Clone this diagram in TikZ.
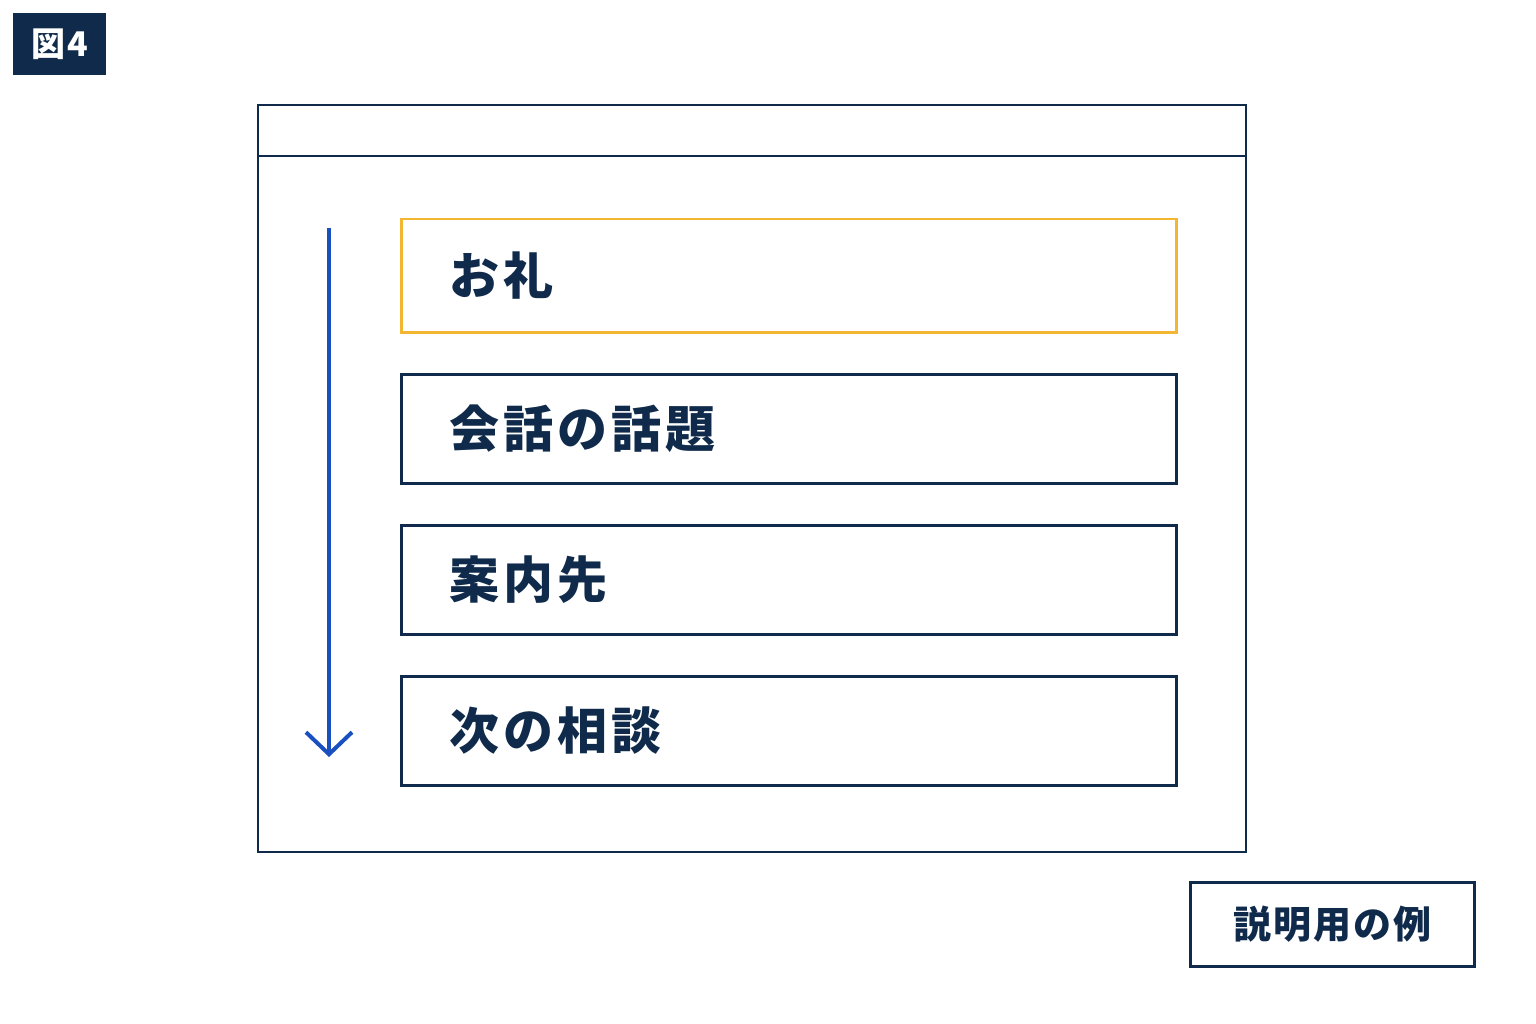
\documentclass[tikz,border=0pt]{standalone}
\usepackage{fontspec}
\newfontfamily\cjk{Noto Sans CJK JP}[LetterSpace=8]
\newfontfamily\cjks{Noto Sans CJK JP}[LetterSpace=5]
\usetikzlibrary{arrows.meta}
\definecolor{navy}{HTML}{0F2A4A}
\definecolor{ablue}{HTML}{1A4FBF}
\definecolor{gold}{HTML}{F2B632}
\begin{document}
\begin{tikzpicture}[x=1pt,y=-1pt,
  item/.style={draw=navy,line width=2.5pt,minimum width=775pt,minimum height=109pt,anchor=north west,inner sep=0pt},
  lbl/.style={anchor=west,text=navy,font=\cjk\bfseries\fontsize{50}{54}\selectfont}]
\useasboundingbox (0,0) rectangle (1536,1024);
\node[fill=navy,minimum width=93pt,minimum height=62pt,anchor=north west,inner sep=0pt,text=white,font=\cjks\bfseries\fontsize{34}{38}\selectfont] (badge) at (13,13) {図4};
\draw[navy,line width=2.5pt] (258,105) rectangle (1246,852);
\draw[navy,line width=2.5pt] (258,156) -- (1246,156);
\coordinate (a1) at (329,228); \coordinate (a2) at (329,757);
\draw[ablue,line width=4pt,-{Straight Barb[length=22pt,width=46pt,line width=4pt]}] (a1) -- (a2);
\node[item,draw=gold,minimum height=113pt] (b1) at (400,218) {};
\node[item] (b2) at (400,373) {};
\node[item] (b3) at (400,524) {};
\node[item] (b4) at (400,675) {};
\node[lbl] at ([xshift=46pt]b1.west) {お礼};
\node[lbl] at ([xshift=46pt]b2.west) {会話の話題};
\node[lbl] at ([xshift=46pt]b3.west) {案内先};
\node[lbl] at ([xshift=46pt]b4.west) {次の相談};
\node[draw=navy,line width=2.5pt,minimum width=284pt,minimum height=84pt,anchor=north west,inner sep=0pt,text=navy,font=\cjks\bfseries\fontsize{38}{42}\selectfont] (ex) at (1189,881) {説明用の例};
\end{tikzpicture}
\end{document}
